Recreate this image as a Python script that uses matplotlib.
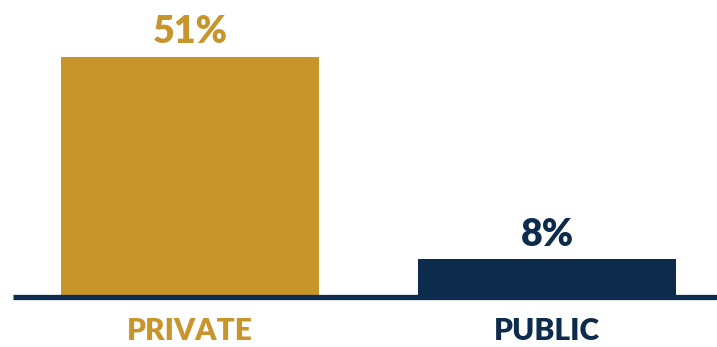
import matplotlib
matplotlib.use("Agg")
import matplotlib.pyplot as plt

categories = ["PRIVATE", "PUBLIC"]
values = [51, 8]
labels = ["51%", "8%"]
colors = ["#C8952D", "#0D2B4C"]

fig = plt.figure(figsize=(7.17, 3.47), dpi=100)
ax = fig.add_axes([0, 0, 1, 1])
x = [0, 1]
ax.bar(x, values, width=0.723, color=colors, zorder=2)
ax.set_xlim(-0.532, 1.476)
ax.set_ylim(-10.6, 63.1)
ax.plot([-0.496, 1.476], [0, 0], color="#0D2B4C", lw=3.8, solid_capstyle="butt", zorder=3)
for xi, v, lab, c in zip(x, values, labels, colors):
    ax.text(xi, v + 2.9, lab, ha="center", va="baseline", fontsize=27,
            fontweight="heavy", color=c, family="Lato")
for xi, cat, c in zip(x, categories, colors):
    ax.text(xi, -7.3, cat, ha="center", va="center", fontsize=21.5,
            fontweight="heavy", color=c, family="Lato")
ax.axis("off")
fig.savefig("out.png", dpi=100)
